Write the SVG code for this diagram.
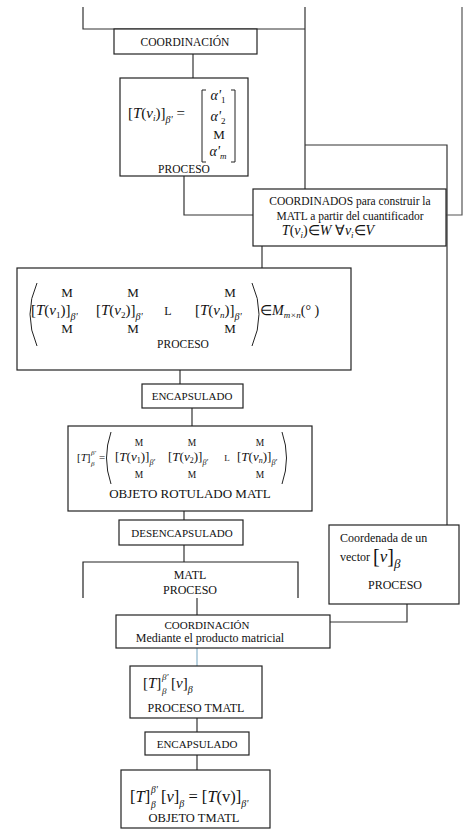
<svg xmlns="http://www.w3.org/2000/svg" width="470" height="833" viewBox="0 0 470 833">
<style>
.box{fill:#fff;stroke:#222;stroke-width:1.2}
.ln{fill:none;stroke:#333;stroke-width:1.2}
.br{fill:none;stroke:#222;stroke-width:1}
.t{font-family:"Liberation Serif","Times New Roman",serif;fill:#111}
.i{font-style:italic}
.c{text-anchor:middle}
</style>
<rect width="470" height="833" fill="#fff"/>
<g id="connectors">
<path class="ln" d="M83,7 V29 H305 M305,7 V189 M305,145 H447 V525"/>
<path class="ln" d="M462,7 V215 H446" style="stroke:#555"/>
<path class="ln" d="M193,54 V78"/>
<path class="ln" d="M184,176 V215 H253"/>
<path class="ln" d="M262,246 V268"/>
<path class="ln" d="M180,370 V384"/>
<path class="ln" d="M192,408 V426"/>
<path class="ln" d="M184,511 V520"/>
<path class="ln" d="M184,545 V562"/>
<path class="ln" d="M197,598 V615"/>
<path class="ln" d="M407,604 V622 H330"/>
<path class="ln" d="M197,648 V666" style="stroke:#8ab4cc"/>
<path class="ln" d="M197,718 V732"/>
<path class="ln" d="M197,755 V770"/>
</g>
<g id="coordinacion1">
<rect class="box" x="114" y="29" width="143" height="25"/>
<text class="t c" x="185" y="46" font-size="11.5">COORDINACIÓN</text>
</g>
<g id="proceso1">
<rect class="box" x="120" y="78" width="128" height="98"/>
<text class="t" x="128" y="118" font-size="15">[<tspan class="i">T</tspan>(<tspan class="i">v</tspan><tspan class="i" font-size="9" dy="3">i</tspan><tspan dy="-3">)]</tspan><tspan class="i" font-size="10" dy="5">β'</tspan><tspan dy="-5"> =</tspan></text>
<path class="br" d="M206,90 H202 V162 H206 M231,90 H235 V162 H231"/>
<text class="t c i" x="218" y="100" font-size="14">α'<tspan font-size="9" dy="3" style="font-style:normal">1</tspan></text>
<text class="t c i" x="218" y="121" font-size="14">α'<tspan font-size="9" dy="3" style="font-style:normal">2</tspan></text>
<text class="t c" x="219" y="139" font-size="13">M</text>
<text class="t c i" x="218" y="156" font-size="14">α'<tspan font-size="9" dy="3">m</tspan></text>
<text class="t c" x="184" y="173" font-size="11.5">PROCESO</text>
</g>
<g id="coordinados">
<rect class="box" x="253" y="189" width="193" height="57"/>
<text class="t c" x="350" y="205" font-size="11.5">COORDINADOS para construir la</text>
<text class="t c" x="350" y="220" font-size="11.5">MATL a partir del cuantificador</text>
<text class="t c" x="328" y="235" font-size="14"><tspan class="i">T</tspan>(<tspan class="i">v</tspan><tspan class="i" font-size="9" dy="3">i</tspan><tspan dy="-3">)∈</tspan><tspan class="i">W</tspan>  ∀<tspan class="i">v</tspan><tspan class="i" font-size="9" dy="3">i</tspan><tspan dy="-3">∈</tspan><tspan class="i">V</tspan></text>
</g>
<g id="proceso2">
<rect class="box" x="17" y="268" width="334" height="102"/>
<path class="br" d="M37,283 Q23,314 37,346 M252,283 Q266,314 252,346" stroke-width="1.2"/>
<text class="t c" x="67" y="297" font-size="13">M</text>
<text class="t c" x="133" y="297" font-size="13">M</text>
<text class="t c" x="230" y="297" font-size="13">M</text>
<text class="t" x="31" y="315" font-size="15">[<tspan class="i">T</tspan>(<tspan class="i">v</tspan><tspan font-size="9" dy="3">1</tspan><tspan dy="-3">)]</tspan><tspan class="i" font-size="10" dy="5">β'</tspan></text>
<text class="t" x="96" y="315" font-size="15">[<tspan class="i">T</tspan>(<tspan class="i">v</tspan><tspan font-size="9" dy="3">2</tspan><tspan dy="-3">)]</tspan><tspan class="i" font-size="10" dy="5">β'</tspan></text>
<text class="t c" x="168" y="315" font-size="12">L</text>
<text class="t" x="195" y="315" font-size="15">[<tspan class="i">T</tspan>(<tspan class="i">v</tspan><tspan class="i" font-size="9" dy="3">n</tspan><tspan dy="-3">)]</tspan><tspan class="i" font-size="10" dy="5">β'</tspan></text>
<text class="t" x="260" y="315" font-size="14">∈<tspan class="i">M</tspan><tspan class="i" font-size="9" dy="3">m×n</tspan><tspan dy="-3">(° )</tspan></text>
<text class="t c" x="67" y="333" font-size="13">M</text>
<text class="t c" x="133" y="333" font-size="13">M</text>
<text class="t c" x="230" y="333" font-size="13">M</text>
<text class="t c" x="183" y="348" font-size="11.5">PROCESO</text>
</g>
<g id="encapsulado1">
<rect class="box" x="142" y="384" width="101" height="24"/>
<text class="t c" x="192" y="400" font-size="11">ENCAPSULADO</text>
</g>
<g id="objeto-matl">
<rect class="box" x="68" y="426" width="244" height="85"/>
<text class="t" x="77" y="461" font-size="11">[<tspan class="i">T</tspan>]</text>
<text class="t i" x="91" y="455" font-size="7">β'</text>
<text class="t i" x="91" y="466" font-size="7">β</text>
<text class="t" x="99" y="461" font-size="11">=</text>
<path class="br" d="M111,432 Q102,458 111,484 M282,432 Q291,458 282,484" stroke-width="1.1"/>
<text class="t c" x="139" y="446" font-size="9.5">M</text>
<text class="t c" x="192" y="446" font-size="9.5">M</text>
<text class="t c" x="260" y="446" font-size="9.5">M</text>
<text class="t" x="115" y="461" font-size="13">[<tspan class="i">T</tspan>(<tspan class="i">v</tspan><tspan font-size="8" dy="2">1</tspan><tspan dy="-2">)]</tspan><tspan class="i" font-size="8" dy="4">β'</tspan></text>
<text class="t" x="168" y="461" font-size="13">[<tspan class="i">T</tspan>(<tspan class="i">v</tspan><tspan font-size="8" dy="2">2</tspan><tspan dy="-2">)]</tspan><tspan class="i" font-size="8" dy="4">β'</tspan></text>
<text class="t c" x="227" y="461" font-size="9">L</text>
<text class="t" x="237" y="461" font-size="13">[<tspan class="i">T</tspan>(<tspan class="i">v</tspan><tspan class="i" font-size="8" dy="2">n</tspan><tspan dy="-2">)]</tspan><tspan class="i" font-size="8" dy="4">β'</tspan></text>
<text class="t c" x="139" y="478" font-size="9.5">M</text>
<text class="t c" x="192" y="478" font-size="9.5">M</text>
<text class="t c" x="260" y="478" font-size="9.5">M</text>
<text class="t c" x="190" y="498" font-size="13">OBJETO ROTULADO MATL</text>
</g>
<g id="desencapsulado">
<rect class="box" x="119" y="520" width="124" height="25"/>
<text class="t c" x="182" y="537" font-size="11">DESENCAPSULADO</text>
</g>
<g id="matl-proceso">
<path class="box" d="M83,598 V562 H298 V598"/>
<text class="t c" x="190" y="579" font-size="12">MATL</text>
<text class="t c" x="190" y="594" font-size="12">PROCESO</text>
</g>
<g id="coordenada">
<rect class="box" x="329" y="525" width="130" height="79"/>
<text class="t" x="340" y="542" font-size="12">Coordenada de un</text>
<text class="t" x="340" y="561" font-size="12">vector <tspan font-size="20" dy="2">[</tspan><tspan class="i" font-size="17" dy="-1">v</tspan><tspan font-size="20" dy="1">]</tspan><tspan class="i" font-size="13" dy="5">β</tspan></text>
<text class="t c" x="395" y="589" font-size="12">PROCESO</text>
</g>
<g id="coordinacion2">
<rect class="box" x="116" y="615" width="214" height="33"/>
<text class="t c" x="207" y="629" font-size="11">COORDINACIÓN</text>
<text class="t c" x="210" y="642" font-size="12">Mediante el producto matricial</text>
</g>
<g id="proceso-tmatl">
<rect class="box" x="130" y="666" width="132" height="52"/>
<text class="t" x="143" y="688" font-size="15">[<tspan class="i">T</tspan>]</text>
<text class="t i" x="162" y="680" font-size="9">β'</text>
<text class="t i" x="162" y="694" font-size="9">β</text>
<text class="t" x="171" y="688" font-size="15">[<tspan class="i">v</tspan>]<tspan class="i" font-size="10" dy="5">β</tspan></text>
<text class="t c" x="196" y="712" font-size="12">PROCESO TMATL</text>
</g>
<g id="encapsulado2">
<rect class="box" x="145" y="732" width="104" height="23"/>
<text class="t c" x="197" y="748" font-size="11">ENCAPSULADO</text>
</g>
<g id="objeto-tmatl">
<rect class="box" x="121" y="770" width="149" height="58"/>
<text class="t" x="130" y="802" font-size="16.5">[<tspan class="i">T</tspan>]</text>
<text class="t i" x="151" y="793" font-size="9.5">β'</text>
<text class="t i" x="151" y="808" font-size="9.5">β</text>
<text class="t" x="161" y="802" font-size="16.5">[<tspan class="i">v</tspan>]<tspan class="i" font-size="10" dy="5">β</tspan><tspan dy="-5"> = [</tspan><tspan class="i">T</tspan>(v)]<tspan class="i" font-size="10" dy="5">β'</tspan></text>
<text class="t c" x="194" y="822" font-size="12.5">OBJETO TMATL</text>
</g>
</svg>
